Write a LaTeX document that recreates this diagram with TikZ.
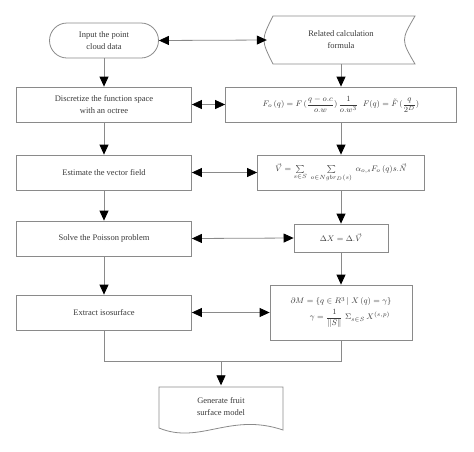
\documentclass[tikz,border=0pt]{standalone}
\usepackage{amsmath}
\usepackage{fontspec}
\setmainfont{Liberation Serif}
\usetikzlibrary{arrows.meta,calc}
\definecolor{linegray}{HTML}{8A8A8A}
\definecolor{txtgray}{HTML}{3A3A3A}
\tikzset{
  box/.style={draw=linegray, line width=0.8pt, fill=white, align=center, text=txtgray,
    font=\fontsize{8.5}{12}\selectfont, inner sep=2pt},
  ghost/.style={align=center, text=txtgray, font=\fontsize{8.5}{12}\selectfont, inner sep=0pt},
  outline/.style={draw=linegray, line width=0.8pt},
  tip/.tip={Triangle[length=10pt,width=9pt,color=black]},
  arr/.style={draw=linegray, line width=0.8pt, -tip},
  darr/.style={draw=linegray, line width=0.8pt, tip-tip},
  link/.style={draw=linegray, line width=0.8pt},
}
\begin{document}
\begin{tikzpicture}[x=1pt,y=-1pt]
\useasboundingbox (0,0) rectangle (474,451);
% left column
\node[box, rounded corners=17.5pt, minimum width=109pt, minimum height=35pt] (in) at (104,40.5) {Input the point\\cloud data};
\node[box, minimum width=175pt, minimum height=35pt] (disc) at (104,104.5) {Discretize the function space\\with an octree};
\node[box, minimum width=175pt, minimum height=35pt] (est) at (104,172.5) {Estimate the vector field};
\node[box, minimum width=175pt, minimum height=35pt] (solve) at (104,238.5) {Solve the Poisson problem};
\node[box, minimum width=175pt, minimum height=35pt] (ext) at (104,312.5) {Extract isosurface};
% right column
\node[ghost, minimum width=148pt, minimum height=48pt] (rel) at (341,40) {Related calculation\\formula};
\draw[outline] (273,16) -- (415,16) .. controls (401,40) .. (415,64) -- (273,64) .. controls (261,40) .. (273,16) -- cycle;
\node[box, minimum width=231pt, minimum height=35pt, font=\fontsize{8}{10}\selectfont] (form1) at (341,104.5)
  {$F_{o}\,(q) = F\,(\dfrac{q-o.c}{o.w})\,\dfrac{1}{o.w^{3}}\;\;F(q) = \tilde{F}\,(\dfrac{q}{2^{D}})$};
\node[box, minimum width=167pt, minimum height=35pt, font=\fontsize{8}{10}\selectfont] (vec) at (341,172.5)
  {$\vec{V} = \sum\limits_{s\in S}\;\sum\limits_{o\in Ngbr_{D}(s)}\;\alpha_{o,s}F_{o}\,(q)s.\vec{N}$};
\node[box, minimum width=94pt, minimum height=28pt, font=\fontsize{8}{10}\selectfont] (dx) at (341,238)
  {$\Delta X = \Delta.\vec{V}$};
\node[box, minimum width=142pt, minimum height=55pt, font=\fontsize{8}{10}\selectfont] (iso) at (341,312.5)
  {$\partial M = \{q\in R^{3}\,|\; X\,(q) = \gamma\}$\\[2pt]
   \hspace*{18pt}$\gamma = \dfrac{1}{\|S\|}\;\Sigma_{s\in S}\,X^{(s,p)}$};
% document
\node[ghost, minimum width=124pt, minimum height=43pt] (doc) at (221,407) {Generate fruit\\surface model};
\draw[outline] (159,387) -- (283,387) -- (283,430) .. controls (230,412) and (200,445) .. (159,428) -- cycle;
% horizontal links
\draw[darr] (in.east) -- (rel.west);
\draw[darr] (disc.east) -- (form1.west);
\draw[darr] (est.east) -- (vec.west);
\draw[darr] (solve.east) -- (dx.west);
\draw[darr] (ext.east) -- (iso.west);
% vertical arrows
\draw[arr] (in.south) -- (disc.north);
\draw[arr] (disc.south) -- (est.north);
\draw[arr] (est.south) -- (solve.north);
\draw[arr] (solve.south) -- (ext.north);
\draw[arr] (rel.south) -- (form1.north);
\draw[arr] (form1.south) -- (vec.north);
\draw[arr] (vec.south) -- (dx.north);
\draw[arr] (dx.south) -- (iso.north);
% merge
\coordinate (merge) at (221,361);
\draw[link] (ext.south) -- (ext.south |- merge) -- (iso.south |- merge) -- (iso.south);
\draw[arr] (merge) -- (doc.north);
\end{tikzpicture}
\end{document}
